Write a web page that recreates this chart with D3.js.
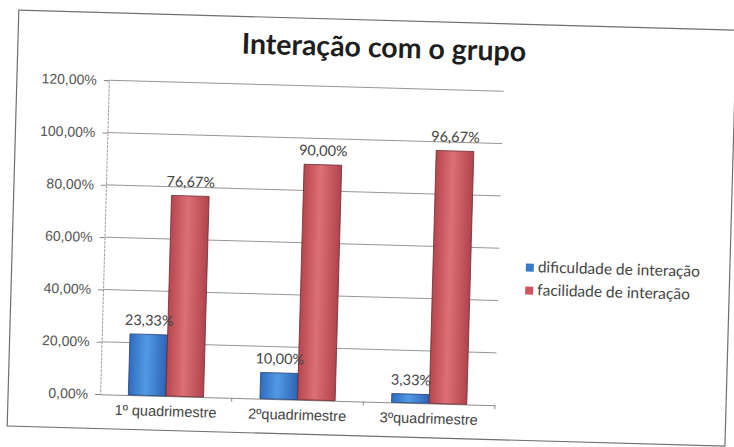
<!DOCTYPE html>
<html>
<head>
<meta charset="utf-8">
<script src="https://cdn.jsdelivr.net/npm/d3@7"></script>
<style>
  body { margin: 0; background: #fff; }
  svg { display: block; font-family: Lato, "Open Sans", sans-serif; }
</style>
</head>
<body>
<div id="chart"></div>
<script>
// values
const categories = ["1º quadrimestre", "2ºquadrimestre", "3ºquadrimestre"];
const seriesNames = ["dificuldade de interação", "facilidade de interação"];
const dificuldade = [0.2333, 0.10, 0.0333];
const facilidade = [0.7667, 0.90, 0.9667];
const yTicks = [0, 0.2, 0.4, 0.6, 0.8, 1.0, 1.2];

const width = 734, height = 447;
const margin = {top: 87.5, right: 234, bottom: 45.5, left: 105};

const pt = d3.formatLocale({decimal: ",", thousands: ".", grouping: [3], currency: ["R$", ""]});
const pct = pt.format(".2%");

const svg = d3.select('#chart').append('svg')
  .attr('width', width)
  .attr('height', height);

const defs = svg.append('defs');
function grad(id, stops) {
  const g = defs.append('linearGradient').attr('id', id)
    .attr('x1', '0%').attr('x2', '100%').attr('y1', '0%').attr('y2', '0%');
  stops.forEach(s => g.append('stop').attr('offset', s[0]).attr('stop-color', s[1]));
}
grad('gBlue', [['0%', '#2f6cc0'], ['45%', '#5299e4'], ['100%', '#2d64b4']]);
grad('gRed', [['0%', '#b7464f'], ['45%', '#dd6f76'], ['100%', '#b0434c']]);
const fills = ['url(#gBlue)', 'url(#gRed)'];
const legendFills = ['#3a78cc', '#cc5560'];

// scanned page is slightly tilted
const root = svg.append('g').attr('transform', 'rotate(1.6,367,223)');

root.append('rect')
  .attr('x', 13).attr('y', 20)
  .attr('width', 718).attr('height', 416)
  .attr('fill', '#fff')
  .attr('stroke', '#6f6f6f')
  .attr('stroke-width', 1.2);

root.append('text')
  .attr('x', 379).attr('y', 57)
  .attr('text-anchor', 'middle')
  .attr('font-size', 28.5)
  .attr('font-weight', 'bold')
  .attr('fill', '#1e1e1e')
  .text('Interação com o grupo');

const contentWidth = width - margin.left - margin.right;
const contentHeight = height - margin.top - margin.bottom;

const x0 = d3.scaleBand()
  .domain(categories)
  .range([0, contentWidth])
  .paddingInner(1.5 / 3.5)
  .paddingOuter(0.75 / 3.5);

const x1 = d3.scaleBand()
  .domain([0, 1])
  .range([0, x0.bandwidth()]);

const y = d3.scaleLinear()
  .domain([0, 1.2])
  .range([contentHeight, 0]);

const g = root.append('g')
  .attr('transform', 'translate(' + margin.left + ',' + margin.top + ')');

// gridlines
g.append('g')
  .selectAll('line')
  .data(yTicks.slice(1))
  .enter().append('line')
    .attr('x1', 0).attr('x2', contentWidth)
    .attr('y1', d => y(d)).attr('y2', d => y(d))
    .attr('stroke', '#8c8c8c')
    .attr('stroke-width', 0.9);

const yAxis = g.append('g')
  .attr('class', 'axis axis--y')
  .call(d3.axisLeft(y).tickValues(yTicks).tickFormat(pct).tickSize(5).tickPadding(7));
yAxis.select('.domain').attr('stroke', '#a0a0a0').attr('stroke-dasharray', '3,1');
yAxis.selectAll('.tick line').attr('stroke', '#8c8c8c');
yAxis.selectAll('text').attr('font-size', 14).attr('fill', '#555');

const xAxis = g.append('g')
  .attr('class', 'axis axis--x')
  .attr('transform', 'translate(0,' + contentHeight + ')')
  .call(d3.axisBottom(x0).tickSize(0).tickPadding(10));
xAxis.select('.domain').attr('stroke', '#8c8c8c');
xAxis.selectAll('text').attr('font-size', 14.5).attr('fill', '#444');

// small separators between categories
g.append('g')
  .selectAll('line')
  .data(categories)
  .enter().append('line')
    .attr('x1', d => x0(d) + x0.bandwidth() + x0.step() * x0.paddingInner() / 2)
    .attr('x2', d => x0(d) + x0.bandwidth() + x0.step() * x0.paddingInner() / 2)
    .attr('y1', contentHeight).attr('y2', contentHeight + 4)
    .attr('stroke', '#8c8c8c');

const rows = categories.map((c, i) => ({cat: c, values: [dificuldade[i], facilidade[i]]}));

const groups = g.selectAll('.grp')
  .data(rows)
  .enter().append('g')
    .attr('class', 'grp')
    .attr('transform', d => 'translate(' + x0(d.cat) + ',0)');

groups.selectAll('rect')
  .data(d => d.values.map((v, k) => ({k: k, v: v})))
  .enter().append('rect')
    .attr('x', d => x1(d.k))
    .attr('y', d => y(d.v))
    .attr('width', x1.bandwidth())
    .attr('height', d => contentHeight - y(d.v))
    .attr('fill', d => fills[d.k])
    .attr('stroke', d => d.k ? '#6e2a30' : '#1f3f78')
    .attr('stroke-width', 0.8);

groups.selectAll('.lbl')
  .data(d => d.values.map((v, k) => ({k: k, v: v})))
  .enter().append('text')
    .attr('class', 'lbl')
    .attr('x', d => x1(d.k) + x1.bandwidth() / 2)
    .attr('y', d => y(d.v) - 9)
    .attr('text-anchor', 'middle')
    .attr('font-size', 14.5)
    .attr('fill', '#444')
    .text(d => pct(d.v));

// legend
const legend = root.append('g').attr('transform', 'translate(527,259)');
const li = legend.selectAll('g')
  .data(seriesNames)
  .enter().append('g')
    .attr('transform', (d, i) => 'translate(0,' + i * 23 + ')');
li.append('rect')
  .attr('width', 8).attr('height', 8)
  .attr('fill', (d, i) => legendFills[i]);
li.append('text')
  .attr('x', 12).attr('y', 8.5)
  .attr('font-size', 15.5)
  .attr('fill', '#444')
  .text(d => d);
</script>
</body>
</html>
